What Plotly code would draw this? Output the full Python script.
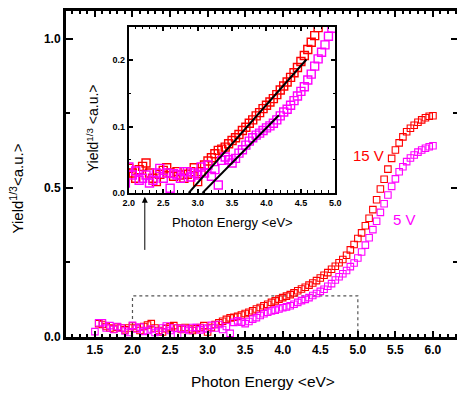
import plotly.graph_objects as go

# ---------------- data ----------------
energy_15v = [1.55, 1.60, 1.65, 1.70, 1.75, 1.80, 1.85, 1.90, 1.95, 2.00,
              2.05, 2.10, 2.15, 2.20, 2.25, 2.30, 2.35, 2.40, 2.45, 2.50,
              2.55, 2.60, 2.65, 2.70, 2.75, 2.80, 2.85, 2.90, 2.95, 3.00,
              3.05, 3.10, 3.15, 3.20, 3.25, 3.30, 3.35, 3.40, 3.45, 3.50,
              3.55, 3.60, 3.65, 3.70, 3.75, 3.80, 3.85, 3.90, 3.95, 4.00,
              4.05, 4.10, 4.15, 4.20, 4.25, 4.30, 4.35, 4.40, 4.45, 4.50,
              4.55, 4.60, 4.65, 4.70, 4.75, 4.80, 4.85, 4.90, 4.95, 5.00,
              5.05, 5.10, 5.15, 5.20, 5.25, 5.30, 5.35, 5.40, 5.45, 5.50,
              5.55, 5.60, 5.65, 5.70, 5.75, 5.80, 5.85, 5.90, 5.95, 6.00]
yield_15v = [0.045, 0.042, 0.035, 0.030, 0.027, 0.033, 0.030, 0.024, 0.030, 0.037,
             0.030, 0.022, 0.035, 0.040, 0.045, 0.030, 0.022, 0.017, 0.028, 0.034,
             0.038, 0.030, 0.025, 0.032, 0.027, 0.022, 0.028, 0.032, 0.038, 0.017,
             0.032, 0.042, 0.048, 0.053, 0.059, 0.064, 0.066, 0.069, 0.074, 0.079,
             0.083, 0.088, 0.094, 0.099, 0.105, 0.110, 0.116, 0.121, 0.127, 0.132,
             0.137, 0.142, 0.148, 0.155, 0.161, 0.167, 0.174, 0.181, 0.189, 0.198,
             0.207, 0.216, 0.227, 0.237, 0.249, 0.260, 0.274, 0.292, 0.310, 0.330,
             0.349, 0.373, 0.398, 0.427, 0.460, 0.496, 0.529, 0.563, 0.599, 0.627,
             0.651, 0.671, 0.688, 0.700, 0.710, 0.720, 0.728, 0.735, 0.740, 0.742]

energy_5v = [1.50, 1.55, 1.60, 1.65, 1.70, 1.75, 1.80, 1.85, 1.90, 1.95, 2.00,
             2.05, 2.10, 2.15, 2.20, 2.25, 2.30, 2.35, 2.40, 2.45, 2.50,
             2.55, 2.60, 2.65, 2.70, 2.75, 2.80, 2.85, 2.90, 2.95, 3.00,
             3.05, 3.10, 3.15, 3.20, 3.25, 3.30, 3.35, 3.40, 3.45, 3.50,
             3.55, 3.60, 3.65, 3.70, 3.75, 3.80, 3.85, 3.90, 3.95, 4.00,
             4.05, 4.10, 4.15, 4.20, 4.25, 4.30, 4.35, 4.40, 4.45, 4.50,
             4.55, 4.60, 4.65, 4.70, 4.75, 4.80, 4.85, 4.90, 4.95, 5.00,
             5.05, 5.10, 5.15, 5.20, 5.25, 5.30, 5.35, 5.40, 5.45, 5.50,
             5.55, 5.60, 5.65, 5.70, 5.75, 5.80, 5.85, 5.90, 5.95, 6.00]
yield_5v = [0.018, 0.048, 0.048, 0.030, 0.038, 0.025, 0.035, 0.030, 0.020, 0.015, 0.039,
            0.027, 0.033, 0.019, 0.022, 0.027, 0.015, 0.019, 0.030, 0.037, 0.022,
            0.030, 0.007, 0.029, 0.027, 0.022, 0.032, 0.032, 0.024, 0.030, 0.027,
            0.039, 0.030, 0.042, 0.025, 0.035, 0.012, 0.049, 0.054, 0.050, 0.045,
            0.052, 0.060, 0.065, 0.072, 0.078, 0.083, 0.087, 0.090, 0.094, 0.098,
            0.101, 0.105, 0.110, 0.116, 0.122, 0.126, 0.132, 0.139, 0.146, 0.153,
            0.160, 0.170, 0.179, 0.191, 0.202, 0.212, 0.223, 0.236, 0.248, 0.265,
            0.285, 0.308, 0.333, 0.360, 0.388, 0.418, 0.447, 0.476, 0.505, 0.530,
            0.554, 0.571, 0.588, 0.600, 0.610, 0.620, 0.627, 0.633, 0.638, 0.641]

# linear threshold fits shown in the inset
fit_15v_x = [2.87, 4.58]
fit_15v_y = [0.0, 0.201]
fit_5v_x = [3.07, 4.18]
fit_5v_y = [0.0, 0.117]

# zoom window marked on main plot
box_x = [2.0, 2.0, 5.0, 5.0]
box_y = [0.0, 0.138, 0.138, 0.0]

RED = "#ff0000"
MAG = "#ff00ff"
FONT = "Liberation Sans, Arial, sans-serif"

fig = go.Figure()

# main plot
fig.add_trace(go.Scatter(x=box_x, y=box_y, mode="lines",
                         line=dict(color="#555555", width=1.2, dash="dot"),
                         hoverinfo="skip"))
fig.add_trace(go.Scatter(x=energy_15v, y=yield_15v, mode="markers",
                         marker=dict(symbol="square-open", size=6.5, color=RED,
                                     line=dict(color=RED, width=1.1))))
fig.add_trace(go.Scatter(x=energy_5v, y=yield_5v, mode="markers",
                         marker=dict(symbol="square-open", size=6.5, color=MAG,
                                     line=dict(color=MAG, width=1.1))))
# dummy trace to activate the mirrored frame axes
fig.add_trace(go.Scatter(x=[None], y=[None], xaxis="x2", yaxis="y2",
                         mode="markers", hoverinfo="skip"))

# inset
fig.add_trace(go.Scatter(x=energy_15v, y=yield_15v, mode="markers",
                         xaxis="x3", yaxis="y3",
                         marker=dict(symbol="square-open", size=8, color=RED,
                                     line=dict(color=RED, width=1.4))))
fig.add_trace(go.Scatter(x=energy_5v, y=yield_5v, mode="markers",
                         xaxis="x3", yaxis="y3",
                         marker=dict(symbol="square-open", size=8, color=MAG,
                                     line=dict(color=MAG, width=1.4))))
fig.add_trace(go.Scatter(x=fit_15v_x, y=fit_15v_y, mode="lines",
                         xaxis="x3", yaxis="y3",
                         line=dict(color="black", width=2)))
fig.add_trace(go.Scatter(x=fit_5v_x, y=fit_5v_y, mode="lines",
                         xaxis="x3", yaxis="y3",
                         line=dict(color="black", width=2)))

main_x_range = [1.115, 6.32]
main_y_range = [0, 1.093]

tickfont_main = dict(family=FONT, size=12, color="black", weight="bold")
tickfont_inset = dict(family=FONT, size=9, color="black", weight="bold")

fig.update_layout(
    width=457, height=395,
    margin=dict(l=66, r=0, t=11, b=58, autoexpand=False),
    paper_bgcolor="white", plot_bgcolor="white",
    showlegend=False,
    font=dict(family=FONT, color="black"),
    xaxis=dict(range=main_x_range, domain=[0, 1], anchor="y",
               showline=True, linecolor="black", linewidth=3,
               ticks="inside", ticklen=6, tickwidth=2, tickcolor="black",
               dtick=0.5, tick0=0, tickformat=".1f", tickfont=tickfont_main,
               minor=dict(dtick=0.1, tick0=0, ticks="inside", ticklen=3,
                          tickwidth=1.5, tickcolor="black"),
               showgrid=False, zeroline=False),
    yaxis=dict(range=main_y_range, domain=[0, 1], anchor="x",
               showline=True, linecolor="black", linewidth=3,
               ticks="inside", ticklen=7, tickwidth=2, tickcolor="black",
               dtick=0.5, tick0=0, tickformat=".1f", tickfont=tickfont_main,
               minor=dict(dtick=0.25, tick0=0, ticks="inside", ticklen=4,
                          tickwidth=1.5, tickcolor="black"),
               showgrid=False, zeroline=False),
    xaxis2=dict(range=main_x_range, overlaying="x", side="top", anchor="y2",
                showline=True, linecolor="black", linewidth=3,
                ticks="inside", ticklen=6, tickwidth=2, tickcolor="black",
                dtick=0.5, tick0=0, showticklabels=False,
                minor=dict(dtick=0.1, tick0=0, ticks="inside", ticklen=3,
                           tickwidth=1.5, tickcolor="black"),
                showgrid=False, zeroline=False),
    yaxis2=dict(range=main_y_range, overlaying="y", side="right", anchor="x2",
                showline=False,
                ticks="inside", ticklen=6, tickwidth=2, tickcolor="black",
                dtick=0.5, tick0=0, showticklabels=False,
                minor=dict(dtick=0.25, tick0=0, ticks="inside", ticklen=4,
                           tickwidth=1.5, tickcolor="black"),
                showgrid=False, zeroline=False),
    xaxis3=dict(range=[2.0, 5.0], domain=[0.1607, 0.6888], anchor="y3",
                showline=True, linecolor="black", linewidth=2, mirror="allticks",
                ticks="inside", ticklen=4, tickwidth=1.5, tickcolor="black",
                dtick=0.5, tick0=0, tickformat=".1f", tickfont=tickfont_inset,
                minor=dict(dtick=0.1, tick0=0, ticks="inside", ticklen=2.5,
                           tickwidth=1, tickcolor="black"),
                showgrid=False, zeroline=False),
    yaxis3=dict(range=[0, 0.25], domain=[0.442, 0.951], anchor="x3",
                showline=True, linecolor="black", linewidth=2, mirror="allticks",
                ticks="inside", ticklen=4, tickwidth=1.5, tickcolor="black",
                dtick=0.1, tick0=0, tickformat=".1f", tickfont=tickfont_inset,
                minor=dict(dtick=0.05, tick0=0, ticks="inside", ticklen=2.5,
                           tickwidth=1, tickcolor="black"),
                showgrid=False, zeroline=False),
    annotations=[
        dict(text="Photon Energy &lt;eV&gt;", xref="paper", yref="paper",
             x=0.505, y=-0.137, showarrow=False, xanchor="center", yanchor="middle",
             font=dict(family=FONT, size=15.5, color="black")),
        dict(text="Yield<sup>1/3</sup>&lt;a.u.&gt;", xref="paper", yref="paper",
             x=-0.1276, y=0.456, showarrow=False, textangle=-90,
             xanchor="center", yanchor="middle",
             font=dict(family=FONT, size=15, color="black")),
        dict(text="Yield<sup>1/3</sup> &lt;a.u.&gt;", xref="paper", yref="paper",
             x=0.0689, y=0.64, showarrow=False, textangle=-90,
             xanchor="center", yanchor="middle",
             font=dict(family=FONT, size=14, color="black")),
        dict(text="Photon Energy &lt;eV&gt;", xref="paper", yref="paper",
             x=0.4247, y=0.3506, showarrow=False, xanchor="center", yanchor="middle",
             font=dict(family=FONT, size=13, color="black")),
        dict(text="15 V", xref="x", yref="y", x=5.137, y=0.61, showarrow=False,
             font=dict(family=FONT, size=15, color=RED)),
        dict(text="5 V", xref="x", yref="y", x=5.615, y=0.395, showarrow=False,
             font=dict(family=FONT, size=15, color=MAG)),
        dict(text="", xref="x", yref="y", x=2.164, y=0.47,
             axref="x", ayref="y", ax=2.164, ay=0.287,
             showarrow=True, arrowhead=2, arrowsize=1.2, arrowwidth=1,
             arrowcolor="black"),
    ],
)

fig.write_html("out.html", config={"displayModeBar": False},
               post_script="document.body.style.margin='0';document.body.style.overflow='hidden';")
